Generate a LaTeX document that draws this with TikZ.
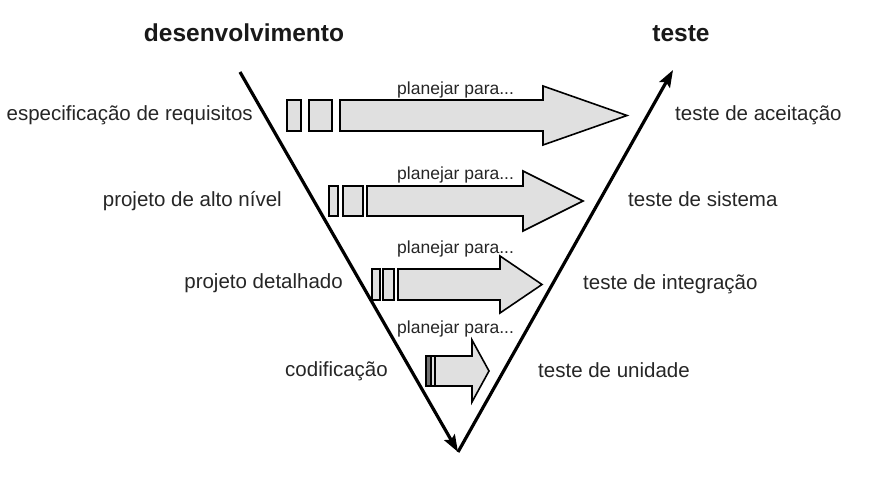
\documentclass[tikz,border=0pt]{standalone}
\usepackage{fontspec}
\setmainfont{Liberation Sans}
\usetikzlibrary{arrows.meta}

\tikzset{
  rotulo/.style={font=\fontsize{20.5}{24}\selectfont, text=black!85, inner sep=0pt},
  planejar/.style={font=\fontsize{17.5}{21}\selectfont, text=black!85, inner sep=0pt, anchor=base west},
  titulo/.style={font=\fontsize{24.5}{28}\selectfont\bfseries, text=black!90, inner sep=0pt, anchor=base},
  bloco/.style={draw=black, line width=1.6pt, fill=black!12},
  vlinha/.style={line width=3.2pt, -{Stealth[length=17pt,width=12pt,inset=3pt]}}
}

\begin{document}
\begin{tikzpicture}[x=1pt,y=-1pt]
\useasboundingbox (0,0) rectangle (886,478);
\fill[white] (0,0) rectangle (886,478);
% titulos
\node[titulo] (desenv) at (244,42) {desenvolvimento};
\node[titulo] (teste) at (681,42) {teste};
%
% o V
\coordinate (topoesq) at (240,72);
\coordinate (fundo) at (458,452);
\coordinate (topodir) at (673,70);
\draw[vlinha] (topoesq) -- (fundo);
\draw[vlinha] (fundo) -- (topodir);
%
% nivel 1
\draw[bloco] (287,100) rectangle (301,131);
\draw[bloco] (309,100) rectangle (332,131);
\draw[bloco] (340,100) -- (543,100) -- (543,86) -- (627,115.5) -- (543,145) -- (543,131) -- (340,131) -- cycle;
\node[planejar] (plan1) at (397,95) {planejar para...};
\node[rotulo, anchor=base east] (espec) at (253,121) {especificação de requisitos};
\node[rotulo, anchor=base west] (aceit) at (675,121) {teste de aceitação};
%
% nivel 2
\draw[bloco] (329,186) rectangle (338,216);
\draw[bloco] (343,186) rectangle (363,216);
\draw[bloco] (367,186) -- (523,186) -- (523,171) -- (583,201) -- (523,231) -- (523,216) -- (367,216) -- cycle;
\node[planejar] (plan2) at (397,180) {planejar para...};
\node[rotulo, anchor=base east] (altonivel) at (282,207) {projeto de alto nível};
\node[rotulo, anchor=base west] (sistema) at (628,207) {teste de sistema};
%
% nivel 3
\draw[bloco] (372,269) rectangle (380,300);
\draw[bloco] (383,269) rectangle (394,300);
\draw[bloco] (398,269) -- (500,269) -- (500,256) -- (542,284.5) -- (500,313) -- (500,300) -- (398,300) -- cycle;
\node[planejar] (plan3) at (397,254) {planejar para...};
\node[rotulo, anchor=base east] (detalhado) at (343,289) {projeto detalhado};
\node[rotulo, anchor=base west] (integracao) at (583,290) {teste de integração};
%
% nivel 4
\draw[bloco, fill=black!55] (426,356) rectangle (431,386);
\draw[bloco] (431,356) rectangle (435,386);
\draw[bloco] (435,356) -- (472,356) -- (472,340) -- (489,371) -- (472,402) -- (472,386) -- (435,386) -- cycle;
\node[planejar] (plan4) at (397,334) {planejar para...};
\node[rotulo, anchor=base east] (codif) at (388,376) {codificação};
\node[rotulo, anchor=base west] (unidade) at (538,377) {teste de unidade};
\end{tikzpicture}
\end{document}
